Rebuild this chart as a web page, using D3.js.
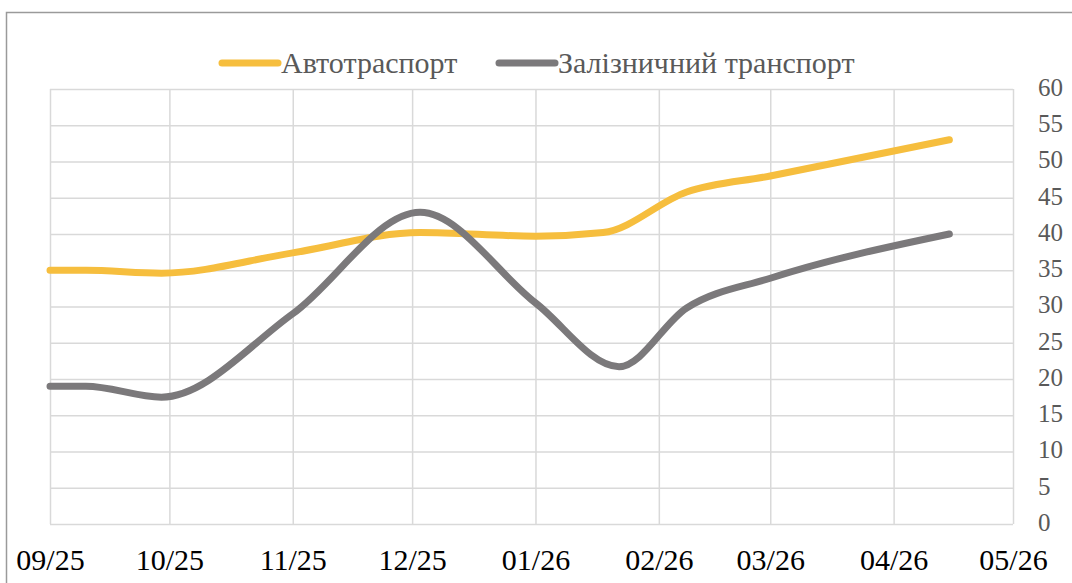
<!DOCTYPE html>
<html>
<head>
<meta charset="utf-8">
<script src="https://cdn.jsdelivr.net/npm/d3@7"></script>
<style>
  body { margin: 0; background: #fff; }
  svg { display: block; }
  svg text { font-family: "Liberation Serif", "Times New Roman", serif; }
  .grid line { stroke: #d9d9d9; stroke-width: 1.5; }
  .grid .domain { display: none; }
  .xlab text { fill: #000; font-size: 30px; }
  .ylab text { fill: #595959; font-size: 25px; }
  .xlab .domain, .ylab .domain, .xlab line, .ylab line { display: none; }
</style>
</head>
<body>
<svg id="chart" width="1072" height="583"></svg>
<script>
// data
const autoDates = ["2025-09-01", "2025-09-10", "2025-09-29", "2025-11-01", "2025-12-03",
                   "2026-01-01", "2026-01-18", "2026-02-08", "2026-03-01", "2026-04-15"];
const autoValues = [35, 35, 34.6, 37.4, 40.2, 39.7, 40.2, 45.8, 48.0, 53];
const railDates = ["2025-09-01", "2025-09-10", "2025-09-29", "2025-11-01", "2025-12-03",
                   "2026-01-01", "2026-01-22", "2026-02-08", "2026-03-01", "2026-04-15"];
const railValues = [19, 19, 17.5, 29, 43, 30.5, 21.7, 29.8, 33.9, 40];
const seriesNames = ["Автотраспорт", "Залізничний транспорт"];
const seriesColors = ["#f6be3e", "#7b797b"];
const yTicks = [0, 5, 10, 15, 20, 25, 30, 35, 40, 45, 50, 55, 60];

const parse = d3.timeParse("%Y-%m-%d");
const W = 1072, H = 583;
const plotL = 50, plotR = 1013, plotT = 89, plotB = 524;

const svg = d3.select("#chart");

svg.append("rect")
    .attr("x", 6.5).attr("y", 12.5)
    .attr("width", W + 20).attr("height", H + 20)
    .attr("fill", "#fff")
    .attr("stroke", "#9a9a9a")
    .attr("stroke-width", 1.5);

const x = d3.scaleTime()
    .domain([parse("2025-09-01"), parse("2026-05-01")])
    .range([plotL, plotR]);

const y = d3.scaleLinear()
    .domain([0, 60])
    .range([plotB, plotT]);

const months = d3.timeMonth.range(parse("2025-09-01"), parse("2026-05-02"));

// gridlines
svg.append("g")
    .attr("class", "grid")
    .attr("transform", `translate(0,${plotB})`)
    .call(d3.axisBottom(x).tickValues(months).tickSize(-(plotB - plotT)).tickFormat(""));

svg.append("g")
    .attr("class", "grid")
    .attr("transform", `translate(${plotL},0)`)
    .call(d3.axisLeft(y).tickValues(yTicks).tickSize(-(plotR - plotL)).tickFormat(""));

// axis labels
svg.append("g")
    .attr("class", "xlab")
    .attr("transform", `translate(0,${plotB + 22})`)
    .call(d3.axisBottom(x).tickValues(months).tickSize(0).tickFormat(d3.timeFormat("%m/%y")));

const yl = svg.append("g")
    .attr("class", "ylab")
    .attr("transform", `translate(${plotR},0)`)
    .call(d3.axisRight(y).tickValues(yTicks).tickSize(0).tickPadding(25));
yl.selectAll("text").attr("dy", "0.25em");

// lines
const series = [[autoDates, autoValues], [railDates, railValues]].map(([ds, vals], i) => ({
    name: seriesNames[i],
    color: seriesColors[i],
    points: vals.map((v, j) => ({ date: parse(ds[j]), value: v }))
}));

const line = d3.line()
    .x(d => x(d.date))
    .y(d => y(d.value))
    .curve(d3.curveMonotoneX);

svg.selectAll(".series")
    .data(series)
    .join("path")
    .attr("class", "series")
    .attr("d", d => line(d.points))
    .attr("fill", "none")
    .attr("stroke", d => d.color)
    .attr("stroke-width", 7)
    .attr("stroke-linecap", "round")
    .attr("stroke-linejoin", "round");

// legend
const legendPos = [222, 499];
const legend = svg.selectAll(".legend")
    .data(series)
    .join("g")
    .attr("class", "legend")
    .attr("transform", (d, i) => `translate(${legendPos[i]},63)`);

legend.append("line")
    .attr("x1", 0).attr("x2", 56)
    .attr("stroke", d => d.color)
    .attr("stroke-width", 7)
    .attr("stroke-linecap", "round");

legend.append("text")
    .attr("x", 59)
    .attr("dy", "0.33em")
    .attr("fill", "#595959")
    .attr("font-size", 30)
    .text(d => d.name);
</script>
</body>
</html>
